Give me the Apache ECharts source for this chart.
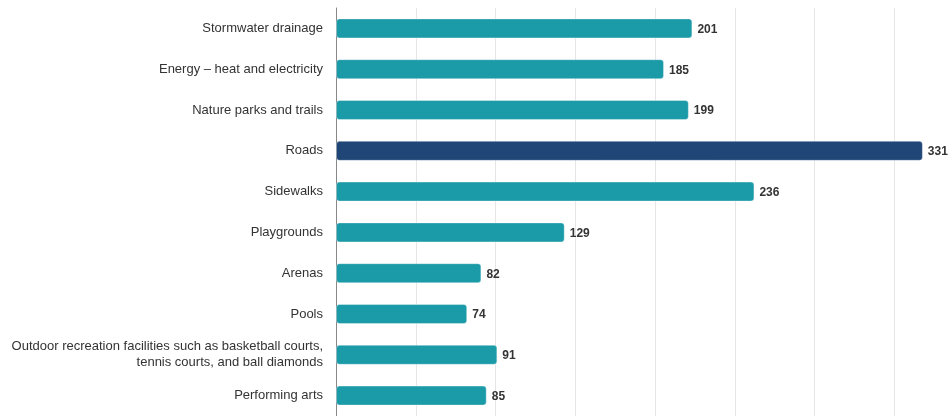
<!DOCTYPE html>
<html>
<head>
<meta charset="utf-8">
<script src="https://cdn.jsdelivr.net/npm/echarts@6/dist/echarts.min.js"></script>
<style>html,body{margin:0;padding:0;background:#fff}#c{width:950px;height:416px}</style>
</head>
<body>
<div id="c"></div>
<script>
const categories = [
  "Stormwater drainage",
  "Energy – heat and electricity",
  "Nature parks and trails",
  "Roads",
  "Sidewalks",
  "Playgrounds",
  "Arenas",
  "Pools",
  "Outdoor recreation facilities such as basketball courts,\ntennis courts, and ball diamonds",
  "Performing arts"
];
const values = [201, 185, 199, 331, 236, 129, 82, 74, 91, 85];
const highlight = "Roads";
const axisMax = 346.3;
const tickInterval = 45;

const TEAL = "#1b9aa8";
const NAVY = "#1f4677";

const chart = echarts.init(document.getElementById('c'), null, {renderer: 'canvas'});
chart.setOption({
  animation: false,
  grid: {left: 336, top: 8, height: 410.7, right: 0, containLabel: false},
  xAxis: {
    type: 'value', min: 0, max: axisMax, interval: tickInterval,
    axisLabel: {show: false}, axisTick: {show: false}, axisLine: {show: false},
    splitLine: {show: true, lineStyle: {color: '#e6e6e6', width: 1}}
  },
  yAxis: {
    type: 'category', inverse: true, data: categories,
    axisLine: {show: true, lineStyle: {color: '#888', width: 1}},
    axisTick: {show: false},
    axisLabel: {color: '#333', fontFamily: 'Liberation Sans, Arial, sans-serif', fontSize: 13, margin: 13, lineHeight: 16, align: 'right', padding: [3, 0, 0, 0]}
  },
  series: [{
    type: 'bar',
    data: values.map((v, i) => ({
      value: v,
      itemStyle: {color: categories[i] === highlight ? NAVY : TEAL}
    })),
    barWidth: 20,
    itemStyle: {borderRadius: 3, borderColor: 'rgba(255,255,255,0.35)', borderWidth: 1},
    label: {
      show: true, position: 'right', distance: 5, offset: [0, 1],
      color: '#333', fontWeight: 'bold', fontSize: 12,
      fontFamily: 'Liberation Sans, Arial, sans-serif'
    }
  }]
});
</script>
</body>
</html>
